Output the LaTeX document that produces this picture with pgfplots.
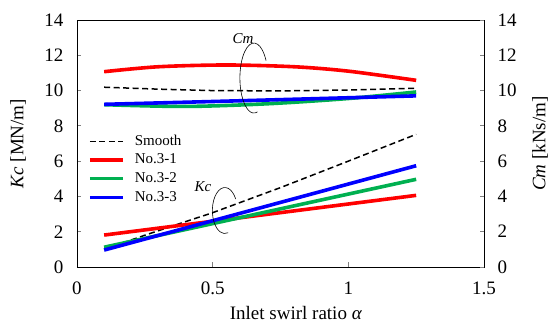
\documentclass[border=0pt]{standalone}
\usepackage{pgfplots}
\pgfplotsset{compat=1.18}
\usepackage{fontspec}
\setmainfont{Liberation Serif}
\definecolor{cred}{RGB}{255,0,0}
\definecolor{cgreen}{RGB}{0,176,80}
\definecolor{cblue}{RGB}{0,0,255}
\begin{document}
\begin{tikzpicture}
\pgfplotsset{every axis/.append style={
  scale only axis, width=407pt, height=247pt,
  xmin=0, xmax=1.5, ymin=0, ymax=14,
  tick align=inside, major tick length=4.5pt,
  axis line style={line width=0.9pt}, tick style={line width=0.9pt},
  /pgf/number format/assume math mode=true,
  tick label style={font=\fontsize{19}{21}\selectfont},
  label style={font=\fontsize{19}{21}\selectfont},
}}
\begin{axis}[
  xtick={0,0.5,1,1.5}, ytick={0,2,...,14},
  xtick pos=bottom, ytick pos=left,
  xticklabels={0,0.5,1,1.5},
  yticklabels={0,2,4,6,8,10,12,14},
  xticklabel style={yshift=-11pt},
  yticklabel style={xshift=-10pt},
  xlabel={Inlet swirl ratio \textit{α}},
  xlabel style={at={(axis description cs:0.538,-0.187)}, anchor=center},
  ylabel={\textit{Kc} [MN/m]},
  ylabel style={at={(axis description cs:-0.145,0.5)}, anchor=center},
  legend style={draw=none, fill=none, inner sep=0pt, at={(axis cs:0.0405,7.62)}, anchor=north west,
    font=\fontsize{15}{17}\selectfont,
    nodes={inner xsep=2pt, inner ysep=1.5pt, text height=11pt, text depth=3pt},
    column sep=8pt, row sep=1.7pt},
  legend cell align=left,
  legend image code/.code={\draw[#1] (0pt,0pt) -- (33pt,0pt);},
]
% Cm
\addplot[black, dash pattern=on 6pt off 3.5pt, line width=1.5pt] coordinates {(0.1,10.19) (0.3,10.08) (0.5,10.0) (0.75,9.98) (1.0,10.03) (1.25,10.13)};
\addlegendentry{Smooth}
\addplot[cred, line width=3.6pt, smooth] coordinates {(0.1,11.07) (0.3,11.35) (0.55,11.45) (0.8,11.35) (1.0,11.1) (1.25,10.58)};
\addlegendentry{No.3-1}
\addplot[cgreen, line width=3.6pt, smooth] coordinates {(0.1,9.2) (0.4,9.1) (0.7,9.25) (1.0,9.55) (1.25,9.92)};
\addlegendentry{No.3-2}
\addplot[cblue, line width=3.6pt, smooth] coordinates {(0.1,9.22) (0.5,9.38) (0.9,9.55) (1.25,9.7)};
\addlegendentry{No.3-3}
% Kc
\addplot[black, dash pattern=on 6pt off 3.5pt, line width=1.5pt, forget plot] coordinates {(0.1,1.0) (0.25,1.8) (0.5,3.08) (0.75,4.5) (1.0,6.0) (1.25,7.52)};
\addplot[cred, line width=3.6pt, forget plot] coordinates {(0.1,1.81) (1.25,4.06)};
\addplot[cgreen, line width=3.6pt, forget plot] coordinates {(0.1,1.12) (1.25,4.97)};
\addplot[cblue, line width=3.6pt, forget plot] coordinates {(0.1,0.96) (1.25,5.74)};
% annotations
\node[font=\fontsize{15}{17}\selectfont\itshape] at (axis cs:0.612,12.95) {Cm};
\draw[line width=0.6pt] ([shift={(30:14pt and 35pt)}]axis cs:0.652,10.71) arc[start angle=30,end angle=285,x radius=14pt,y radius=35pt];
\node[font=\fontsize{15}{17}\selectfont\itshape] at (axis cs:0.464,4.54) {Kc};
\draw[line width=0.6pt] ([shift={(30:12.5pt and 23pt)}]axis cs:0.545,3.2) arc[start angle=30,end angle=285,x radius=12.5pt,y radius=23pt];
\end{axis}
\begin{axis}[
  axis x line=none, axis y line*=right,
  ytick={0,2,...,14},
  yticklabels={0,2,4,6,8,10,12,14},
  yticklabel style={xshift=10pt},
  ylabel={\textit{Cm} [kNs/m]},
  ylabel style={at={(axis description cs:1.138,0.5)}, anchor=center, rotate=0},
]
\end{axis}
\pgfresetboundingbox
\useasboundingbox (-77pt,-56pt) rectangle (472pt,267pt);
\end{tikzpicture}
\end{document}
